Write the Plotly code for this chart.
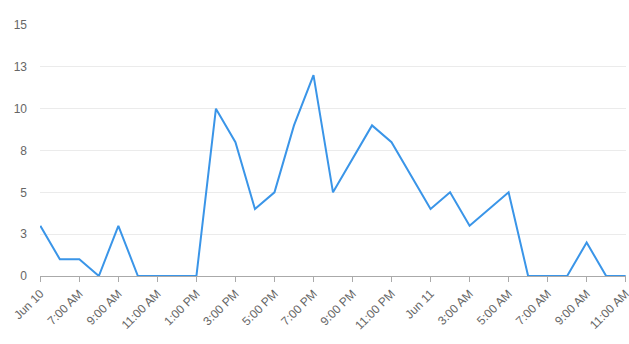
import plotly.graph_objects as go
import pandas as pd

times = pd.date_range("2024-06-10 05:00", "2024-06-11 11:00", freq="h")
values = [3, 1, 1, 0, 3, 0, 0, 0, 0, 10, 8, 4, 5, 9, 12, 5, 7, 9, 8, 6, 4, 5, 3, 4, 5, 0, 0, 0, 2, 0, 0]

x_tick_vals = pd.date_range("2024-06-10 05:00", "2024-06-11 11:00", freq="2h")
x_tick_text = ["Jun 10", "7:00 AM", "9:00 AM", "11:00 AM", "1:00 PM", "3:00 PM", "5:00 PM",
               "7:00 PM", "9:00 PM", "11:00 PM", "Jun 11", "3:00 AM", "5:00 AM", "7:00 AM",
               "9:00 AM", "11:00 AM"]
y_tick_vals = [0, 2.5, 5, 7.5, 10, 12.5, 15]
y_tick_text = ["0", "3", "5", "8", "10", "13", "15"]

fig = go.Figure(go.Scatter(x=times, y=values, mode="lines",
                           line=dict(color="#3a95e8", width=2)))

fig.update_layout(
    width=629, height=344,
    margin=dict(l=40, r=3, t=25, b=68),
    paper_bgcolor="white", plot_bgcolor="white",
    showlegend=False,
    font=dict(family="Liberation Sans, Arial, sans-serif", size=12, color="#666666"),
)
fig.update_xaxes(
    range=[times[0] - pd.Timedelta(minutes=1), times[-1] + pd.Timedelta(minutes=1)],
    tickvals=x_tick_vals, ticktext=x_tick_text, tickangle=-45,
    ticklabeloverflow="allow", automargin=False,
    showgrid=False, showline=True, linecolor="#aaaaaa", linewidth=1,
    ticks="outside", ticklen=5, tickcolor="#aaaaaa",
    zeroline=False,
)
fig.update_yaxes(
    range=[0, 15], tickvals=y_tick_vals, ticktext=y_tick_text,
    showgrid=True, gridcolor="#ebebeb", gridwidth=1, automargin=False,
    zeroline=False, showline=False, ticks="", ticklabelstandoff=12,
)

fig.write_html("out.html")
